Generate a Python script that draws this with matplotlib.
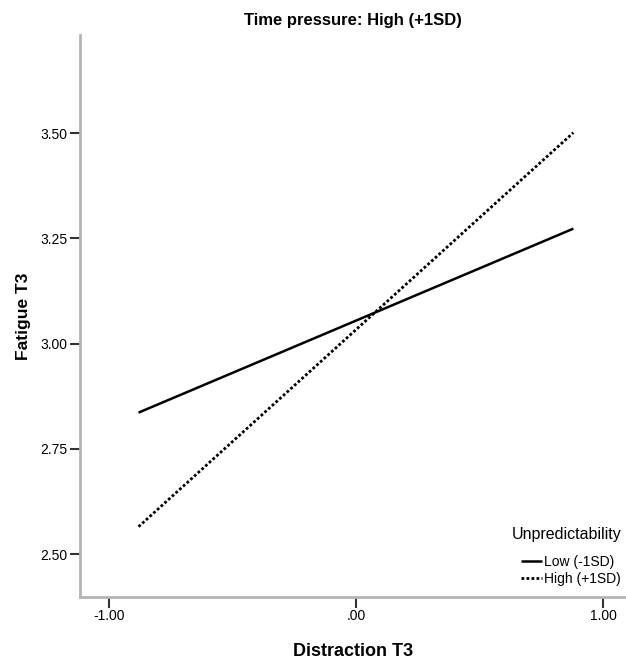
import matplotlib
matplotlib.use('Agg')
import matplotlib.pyplot as plt

# values
x_ends = [-0.88, 0.88]  # Distraction T3 (-1SD / +1SD)
low_sd = [2.836, 3.273]  # Unpredictability Low (-1SD)
high_sd = [2.565, 3.501]  # Unpredictability High (+1SD)
series_labels = ['Low (-1SD)', 'High (+1SD)']
x_ticks = [-1.0, 0.0, 1.0]
x_ticklabels = ['-1.00', '.00', '1.00']
y_ticks = [2.50, 2.75, 3.00, 3.25, 3.50]
y_ticklabels = ['2.50', '2.75', '3.00', '3.25', '3.50']

plt.rcParams['font.family'] = ['Liberation Sans', 'DejaVu Sans']

fig = plt.figure(figsize=(6.26, 6.59), dpi=100)
ax = fig.add_axes([80 / 626, 1 - 597 / 659, 1 - 80 / 626, (597 - 35) / 659])

ax.plot(x_ends, low_sd, color='black', lw=1.8, solid_capstyle='butt', label=series_labels[0])
ax.plot(x_ends, high_sd, color='black', lw=2.0, linestyle=(0, (1, 0.8)), label=series_labels[1])

ax.set_xlim(-1.117, 1.093)
ax.set_ylim(2.398, 3.733)
ax.set_xticks(x_ticks)
ax.set_xticklabels(x_ticklabels)
ax.set_yticks(y_ticks)
ax.set_yticklabels(y_ticklabels)
ax.tick_params(axis='y', direction='out', length=7, width=1.5, color='#333333', labelsize=10, pad=2)
ax.tick_params(axis='x', direction='out', length=8, width=1.5, color='#333333', labelsize=10, pad=1)

for side in ['top', 'right']:
    ax.spines[side].set_visible(False)
for side in ['left', 'bottom']:
    ax.spines[side].set_color('#b4b4b4')
    ax.spines[side].set_linewidth(2)

ax.set_title('Time pressure: High (+1SD)', fontsize=12, fontweight='bold', pad=0, y=1.0 + 10 / 562)
ax.set_xlabel('Distraction T3', fontsize=13, fontweight='bold', labelpad=14)
ax.set_ylabel('Fatigue T3', fontsize=12.5, fontweight='bold', labelpad=7)

leg = ax.legend(title='Unpredictability', loc='lower right', bbox_to_anchor=(1.009, 0.002),
                frameon=False, fontsize=10, title_fontsize=11.5, handlelength=1.5,
                handletextpad=0.2, labelspacing=0.25, borderpad=0.2)
leg._legend_box.align = 'right'
leg._legend_box.sep = 9

fig.savefig('out.png', dpi=100)
